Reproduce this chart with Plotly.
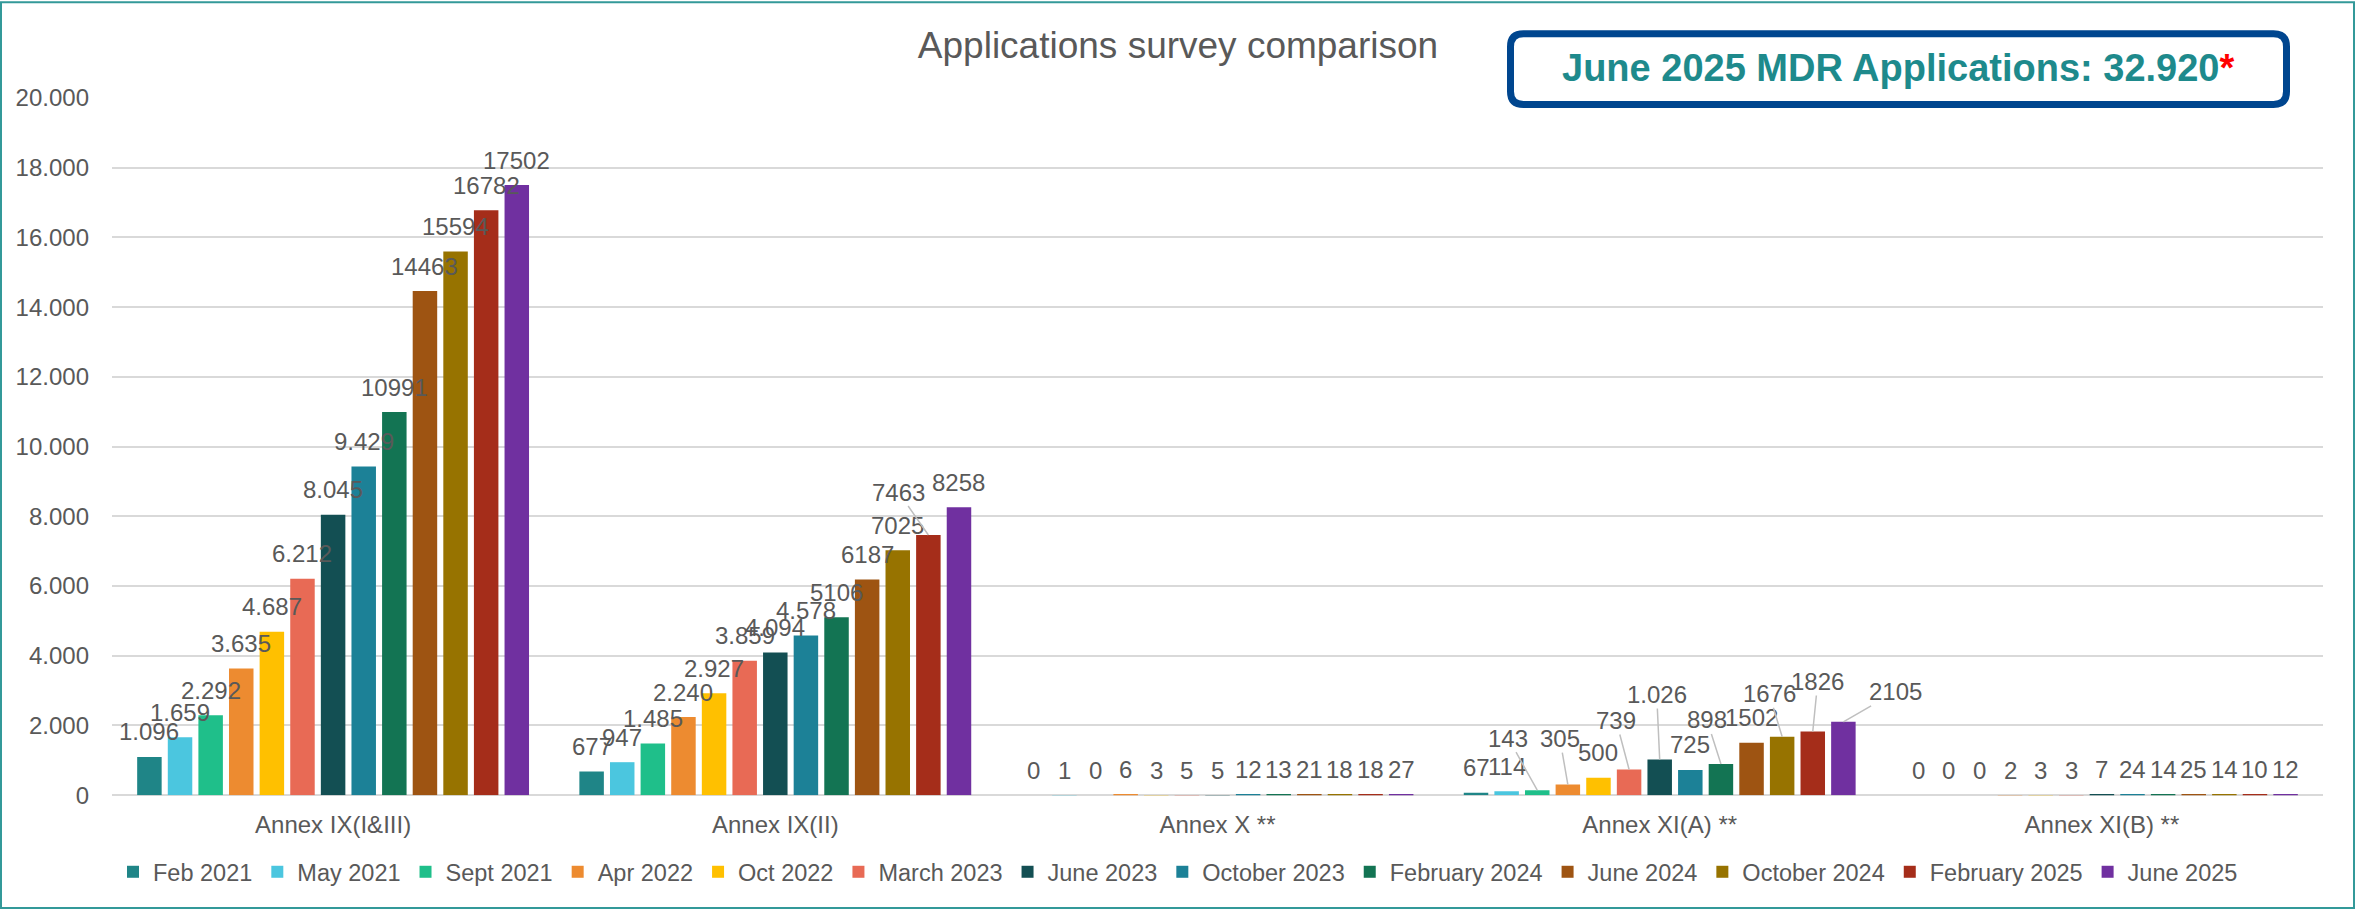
import plotly.graph_objects as go

# ---------------- data ----------------
categories = ["Annex IX(I&III)", "Annex IX(II)", "Annex X **",
              "Annex XI(A) **", "Annex XI(B) **"]

series_names = ["Feb 2021", "May 2021", "Sept 2021", "Apr 2022", "Oct 2022",
                "March 2023", "June 2023", "October 2023", "February 2024",
                "June 2024", "October 2024", "February 2025", "June 2025"]

annex_ix_i_iii = [1096, 1659, 2292, 3635, 4687, 6212, 8045, 9429, 10991, 14463, 15594, 16782, 17502]
annex_ix_ii = [677, 947, 1485, 2240, 2927, 3859, 4094, 4578, 5106, 6187, 7025, 7463, 8258]
annex_x = [0, 1, 0, 6, 3, 5, 5, 12, 13, 21, 18, 18, 27]
annex_xi_a = [67, 114, 143, 305, 500, 739, 1026, 725, 898, 1502, 1676, 1826, 2105]
annex_xi_b = [0, 0, 0, 2, 3, 3, 7, 24, 14, 25, 14, 10, 12]

labels_ix_i_iii = ["1.096", "1.659", "2.292", "3.635", "4.687", "6.212", "8.045", "9.429",
                   "10991", "14463", "15594", "16782", "17502"]
labels_ix_ii = ["677", "947", "1.485", "2.240", "2.927", "3.859", "4.094", "4.578",
                "5106", "6187", "7025", "7463", "8258"]
labels_x = ["0", "1", "0", "6", "3", "5", "5", "12", "13", "21", "18", "18", "27"]
labels_xi_a = ["67", "114", "143", "305", "500", "739", "1.026", "725", "898",
               "1502", "1676", "1826", "2105"]
labels_xi_b = ["0", "0", "0", "2", "3", "3", "7", "24", "14", "25", "14", "10", "12"]

y_tick_values = [0, 2000, 4000, 6000, 8000, 10000, 12000, 14000, 16000, 18000, 20000]

title_text = "Applications survey comparison"
box_text = "June 2025 MDR Applications: 32.920"

# ---------------- styles ----------------
colors = ["#1F8587", "#4BC6DF", "#1FBF8A", "#ED8B30", "#FFC000", "#E86A55", "#134F53",
          "#1C8197", "#137453", "#9E5412", "#977300", "#A52D1A", "#7030A0"]
FONT = "Arial, 'Liberation Sans', sans-serif"
GREY = "#595959"

W, H = 2356, 911
ML, MR, MT, MB = 112, 33, 98, 114
PW, PH = W - ML - MR, H - MT - MB
BARGAP, GROUPGAP = 0.10, 0.20


def px_x(px):
    return (px - ML) / PW


def px_y(py):
    return (H - MB - py) / PH


# label displacement (leader-line labels), pixels: (group index, series index) -> (dx, dy)
moved_labels = {
    (1, 11): (-30, -43),
    (3, 2): (-29, -52),
    (3, 3): (-8, -46),
    (3, 5): (-13, -49),
    (3, 6): (-3, -65),
    (3, 8): (-14, -44),
    (3, 10): (-13, -43),
    (3, 11): (5, -50),
    (3, 12): (52, -30),
}

groups = [annex_ix_i_iii, annex_ix_ii, annex_x, annex_xi_a, annex_xi_b]
group_labels = [labels_ix_i_iii, labels_ix_ii, labels_x, labels_xi_a, labels_xi_b]

fig = go.Figure()
n = len(series_names)
for i, name in enumerate(series_names):
    fig.add_trace(go.Bar(
        name=name,
        x=categories,
        y=[g[i] for g in groups],
        marker=dict(color=colors[i], line=dict(width=0)),
        hoverinfo="x+y+name",
    ))

annotations = []
slot = (1 - BARGAP) / n
for gi, (vals, labs) in enumerate(zip(groups, group_labels)):
    for si in range(n):
        xpos = gi + (si - (n - 1) / 2) * slot
        if (gi, si) in moved_labels:
            dx, dy = moved_labels[(gi, si)]
            annotations.append(dict(
                x=xpos, y=vals[si], xref="x", yref="y", text=labs[si],
                showarrow=True, ax=dx, ay=dy, arrowhead=0, arrowwidth=1.5,
                arrowcolor="#BFBFBF", standoff=0, startstandoff=0,
                font=dict(family=FONT, size=24, color=GREY), borderpad=0,
            ))
        else:
            annotations.append(dict(
                x=xpos, y=vals[si], xref="x", yref="y", text=labs[si],
                showarrow=False, yanchor="middle", xanchor="center", yshift=25,
                font=dict(family=FONT, size=24, color=GREY),
            ))

# box text
annotations.append(dict(
    x=px_x(1898), y=px_y(68), xref="paper", yref="paper",
    text="<b>" + box_text + "</b><span style='color:#FF0000'><b>*</b></span>",
    showarrow=False, xanchor="center", yanchor="middle",
    font=dict(family=FONT, size=38, color="#1E8A8C"),
))

# rounded box path
x0, x1 = px_x(1510.5), px_x(2286.5)
y0, y1 = px_y(104.5), px_y(33.5)
rx, ry = 13 / PW, 13 / PH
path = (f"M{x0+rx},{y0} L{x1-rx},{y0} Q{x1},{y0} {x1},{y0+ry} "
        f"L{x1},{y1-ry} Q{x1},{y1} {x1-rx},{y1} L{x0+rx},{y1} "
        f"Q{x0},{y1} {x0},{y1-ry} L{x0},{y0+ry} Q{x0},{y0} {x0+rx},{y0} Z")

shapes = [
    dict(type="path", xref="paper", yref="paper", path=path,
         line=dict(color="#00468F", width=7), fillcolor="white", layer="above"),
    dict(type="rect", xref="paper", yref="paper",
         x0=px_x(1), x1=px_x(W - 2), y0=px_y(H - 1), y1=px_y(2),
         line=dict(color="#339999", width=2), fillcolor="rgba(0,0,0,0)", layer="above"),
]

fig.update_layout(
    width=W, height=H,
    margin=dict(l=ML, r=MR, t=MT, b=MB, pad=0),
    paper_bgcolor="white", plot_bgcolor="white",
    barmode="group", bargap=BARGAP, bargroupgap=GROUPGAP,
    separators=",.",
    font=dict(family=FONT, size=24, color=GREY),
    title=dict(text=title_text, x=0.5, xref="container", xanchor="center",
               y=1 - 45 / H, yref="container", yanchor="middle",
               font=dict(family=FONT, size=37, color=GREY)),
    xaxis=dict(showgrid=False, showline=False, zeroline=False,
               ticks="outside", ticklen=8, tickcolor="rgba(0,0,0,0)",
               tickfont=dict(family=FONT, size=24, color=GREY)),
    yaxis=dict(range=[0, 20000], tickvals=y_tick_values, tickformat=",d",
               showgrid=True, gridcolor="#D9D9D9", gridwidth=2,
               zeroline=True, zerolinecolor="#D9D9D9", zerolinewidth=2,
               showline=False, ticks="", ticklabelstandoff=22,
               tickfont=dict(family=FONT, size=24, color=GREY)),
    legend=dict(orientation="h", xref="container", yref="container",
                x=0.5, xanchor="center", y=1 - 872 / H, yanchor="middle",
                font=dict(family=FONT, size=23.5, color=GREY),
                itemwidth=30, traceorder="normal", bgcolor="rgba(0,0,0,0)"),
    annotations=annotations,
    shapes=shapes,
    showlegend=True,
)

fig.write_html(
    "out.html",
    config={"displayModeBar": False},
    post_script="document.body.style.margin='0';document.body.style.padding='0';",
)
